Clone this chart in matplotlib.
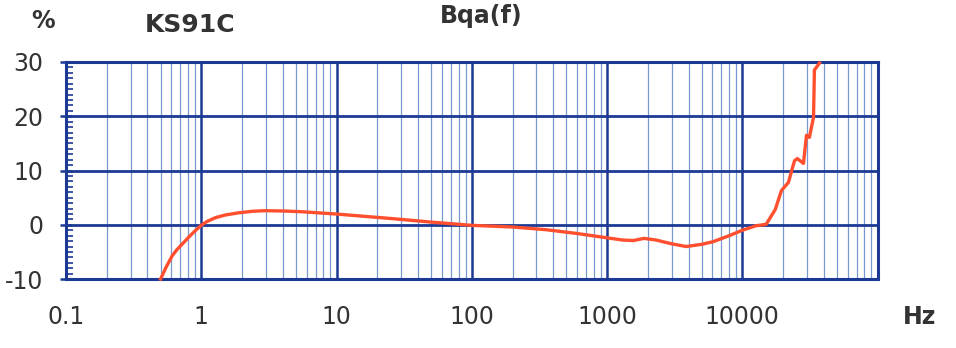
import numpy as np
import matplotlib.pyplot as plt
from matplotlib.ticker import FixedLocator, LogLocator, NullFormatter, MultipleLocator

plt.rcParams['font.family'] = ['DejaVu Sans']
plt.rcParams['axes.unicode_minus'] = False

# frequency response of the sensor
freq = [0.5, 0.55, 0.61, 0.66, 0.72, 0.8, 0.86, 0.93, 1.0, 1.1, 1.27, 1.5, 1.88,
        2.4, 2.97, 4.0, 5.6, 9.8, 27, 50, 100, 200, 353, 600, 1000, 1300, 1560,
        1880, 2300, 3000, 3850, 5000, 6100, 8000, 10000, 12500, 15000, 17500, 19450,
        21900, 24300, 25500, 28300, 29800, 31300, 33600, 34100, 37200]
dev = [-10, -7.8, -5.7, -4.6, -3.6, -2.4, -1.6, -0.8, -0.1, 0.6, 1.3, 1.8, 2.2,
       2.5, 2.6, 2.55, 2.4, 2.0, 1.1, 0.5, -0.1, -0.4, -0.9, -1.6, -2.4, -2.8, -2.9,
       -2.5, -2.8, -3.5, -4.0, -3.6, -3.1, -2.0, -1.0, -0.2, 0.1, 2.8, 6.3,
       7.8, 11.8, 12.2, 11.3, 16.5, 16.1, 19.8, 28.5, 29.8]

x_ticks = [0.1, 1, 10, 100, 1000, 10000]
x_labels = ['0.1', '1', '10', '100', '1000', '10000']
y_ticks = [-10, 0, 10, 20, 30]

navy = '#1c3a94'
light = '#4f75c2'
txt = '#333333'

fig = plt.figure(figsize=(9.56, 3.48), dpi=100)
ax = fig.add_axes([0.069, 0.198, 0.849, 0.624])

ax.set_xscale('log')
ax.set_xlim(0.1, 1e5)
ax.set_ylim(-10, 30)

ax.xaxis.set_major_locator(FixedLocator(x_ticks))
ax.set_xticklabels(x_labels)
ax.xaxis.set_minor_locator(LogLocator(base=10, subs=np.arange(2, 10)))
ax.xaxis.set_minor_formatter(NullFormatter())
ax.set_yticks(y_ticks)
ax.yaxis.set_minor_locator(MultipleLocator(1))

ax.grid(True, which='major', axis='x', color=navy, lw=1.8)
ax.grid(True, which='minor', axis='x', color=light, lw=0.9, alpha=0.75)
ax.grid(True, which='major', axis='y', color=navy, lw=2.0)
ax.set_axisbelow(True)

for s in ax.spines.values():
    s.set_color(navy)
    s.set_linewidth(2.2)

ax.tick_params(axis='x', which='major', length=0, labelsize=17, labelcolor=txt, pad=19)
ax.tick_params(axis='x', which='minor', length=0)
ax.tick_params(axis='y', which='major', direction='inout', length=9, width=1.8,
               color=navy, labelsize=17, labelcolor=txt, pad=12)
ax.tick_params(axis='y', which='minor', direction='in', length=5, width=1.2, color=navy)

ax.plot(freq, dev, color='#ff4f2e', lw=2.4, zorder=3, clip_on=False)

fig.text(0.045, 0.94, '%', fontsize=17, fontweight='bold', color=txt, ha='center', va='center')
fig.text(0.199, 0.928, 'KS91C', fontsize=18, fontweight='bold', color=txt, ha='center', va='center')
fig.text(0.503, 0.955, 'Bqa(f)', fontsize=17, fontweight='bold', color=txt, ha='center', va='center')
fig.text(0.962, 0.089, 'Hz', fontsize=17, fontweight='bold', color=txt, ha='center', va='center')

fig.savefig('out.png', dpi=100)
